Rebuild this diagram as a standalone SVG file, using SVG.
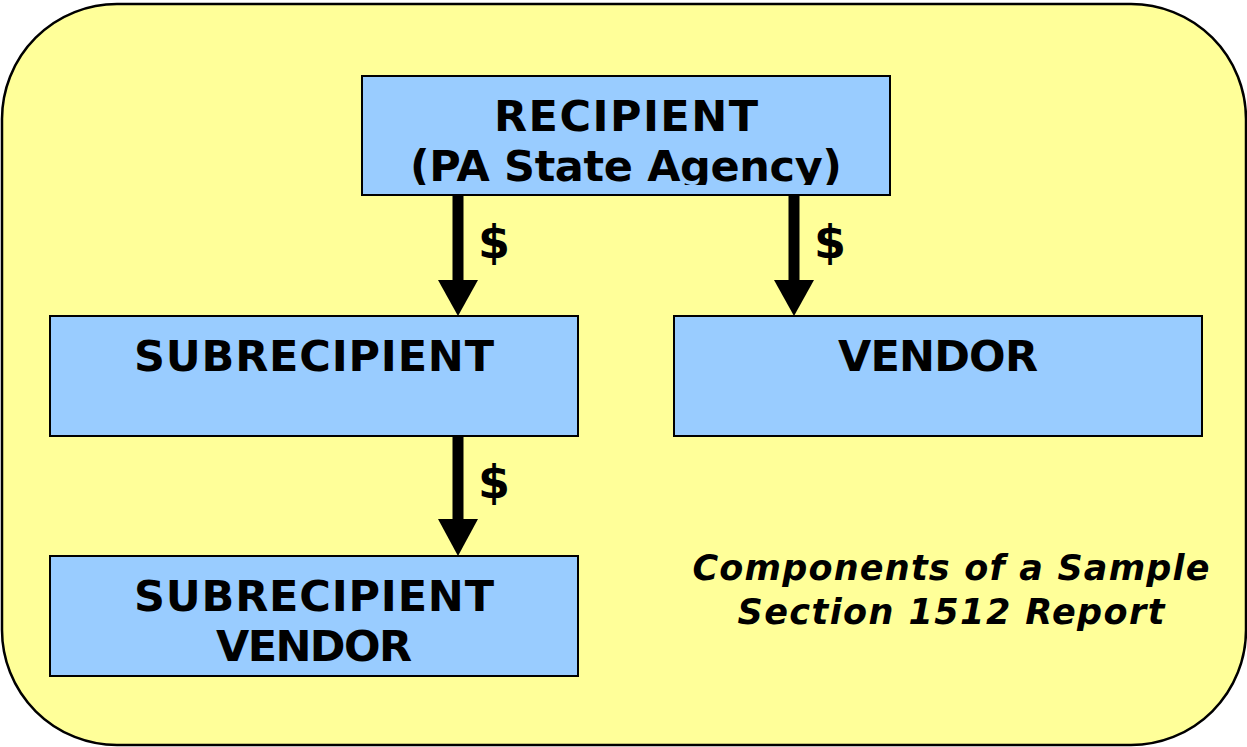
<svg xmlns="http://www.w3.org/2000/svg" width="1247" height="747" viewBox="0 0 1247 747">
<style>
.box{fill:#99CCFF;stroke:#000;stroke-width:2}
.t{font-family:"DejaVu Sans",Verdana,sans-serif;font-weight:bold;font-size:43px;fill:#000;text-anchor:middle}
.d{font-family:"DejaVu Sans",Verdana,sans-serif;font-weight:bold;font-size:46px;fill:#000}
.cap{font-family:"DejaVu Sans",Verdana,sans-serif;font-weight:bold;font-style:italic;font-size:35px;fill:#000;text-anchor:middle}
.shaft{stroke:#000;stroke-width:11;fill:none}
.head{fill:#000}
</style>
<defs>
<clipPath id="clipR"><rect x="362" y="76" width="528" height="109"/></clipPath>
</defs>
<rect x="2" y="4" width="1244" height="741" rx="115" ry="115" fill="#FFFF99" stroke="#000" stroke-width="2.5"/>
<g id="recipient">
<rect class="box" x="362" y="76" width="528" height="119"/>
<text class="t" x="626" y="131" textLength="264" lengthAdjust="spacing">RECIPIENT</text>
<text class="t" x="626" y="181" textLength="432" lengthAdjust="spacing" clip-path="url(#clipR)">(PA State Agency)</text>
</g>
<g id="subrecipient">
<rect class="box" x="50" y="316" width="528" height="120"/>
<text class="t" x="314" y="371" textLength="360" lengthAdjust="spacing">SUBRECIPIENT</text>
</g>
<g id="vendor">
<rect class="box" x="674" y="316" width="528" height="120"/>
<text class="t" x="938" y="371" textLength="200" lengthAdjust="spacing">VENDOR</text>
</g>
<g id="subrecipient-vendor">
<rect class="box" x="50" y="556" width="528" height="120"/>
<text class="t" x="314" y="611" textLength="360" lengthAdjust="spacing">SUBRECIPIENT</text>
<text class="t" x="314" y="661" textLength="196" lengthAdjust="spacing">VENDOR</text>
</g>
<g id="connectors">
<line class="shaft" x1="458" y1="195" x2="458" y2="284"/>
<polygon class="head" points="438,280 478,280 458,316"/>
<text class="d" x="478" y="258">$</text>
<line class="shaft" x1="794" y1="195" x2="794" y2="284"/>
<polygon class="head" points="774,280 814,280 794,316"/>
<text class="d" x="814" y="258">$</text>
<line class="shaft" x1="458" y1="436" x2="458" y2="522"/>
<polygon class="head" points="438,519 478,519 458,556"/>
<text class="d" x="478" y="498">$</text>
</g>
<g id="caption">
<text class="cap" x="951" y="580" textLength="517" lengthAdjust="spacing">Components of a Sample</text>
<text class="cap" x="951" y="624" textLength="427" lengthAdjust="spacing">Section 1512 Report</text>
</g>
</svg>
